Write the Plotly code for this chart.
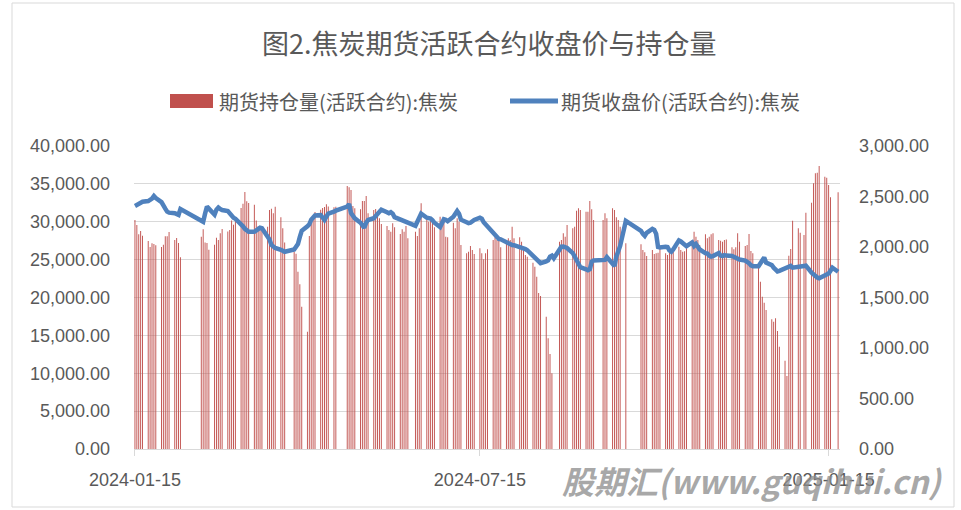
import plotly.graph_objects as go

# ---------------- data ----------------
DATES = [
    "2024-01-15", "2024-01-16", "2024-01-17", "2024-01-18", "2024-01-19",
    "2024-01-22", "2024-01-23", "2024-01-24", "2024-01-25", "2024-01-26",
    "2024-01-29", "2024-01-30", "2024-01-31", "2024-02-01", "2024-02-02",
    "2024-02-05", "2024-02-06", "2024-02-07", "2024-02-08",
    "2024-02-19", "2024-02-20", "2024-02-21", "2024-02-22", "2024-02-23",
    "2024-02-26", "2024-02-27", "2024-02-28", "2024-02-29", "2024-03-01",
    "2024-03-04", "2024-03-05", "2024-03-06", "2024-03-07", "2024-03-08",
    "2024-03-11", "2024-03-12", "2024-03-13", "2024-03-14", "2024-03-15",
    "2024-03-18", "2024-03-19", "2024-03-20", "2024-03-21", "2024-03-22",
    "2024-03-25", "2024-03-26", "2024-03-27", "2024-03-28", "2024-03-29",
    "2024-04-01", "2024-04-02", "2024-04-03",
    "2024-04-08", "2024-04-09", "2024-04-10", "2024-04-11", "2024-04-12",
    "2024-04-15", "2024-04-16", "2024-04-17", "2024-04-18", "2024-04-19",
    "2024-04-22", "2024-04-23", "2024-04-24", "2024-04-25", "2024-04-26",
    "2024-04-29", "2024-04-30",
    "2024-05-06", "2024-05-07", "2024-05-08", "2024-05-09", "2024-05-10",
    "2024-05-13", "2024-05-14", "2024-05-15", "2024-05-16", "2024-05-17",
    "2024-05-20", "2024-05-21", "2024-05-22", "2024-05-23", "2024-05-24",
    "2024-05-27", "2024-05-28", "2024-05-29", "2024-05-30", "2024-05-31",
    "2024-06-03", "2024-06-04", "2024-06-05", "2024-06-06", "2024-06-07",
    "2024-06-11", "2024-06-12", "2024-06-13", "2024-06-14",
    "2024-06-17", "2024-06-18", "2024-06-19", "2024-06-20", "2024-06-21",
    "2024-06-24", "2024-06-25", "2024-06-26", "2024-06-27", "2024-06-28",
    "2024-07-01", "2024-07-02", "2024-07-03", "2024-07-04", "2024-07-05",
    "2024-07-08", "2024-07-09", "2024-07-10", "2024-07-11", "2024-07-12",
    "2024-07-15", "2024-07-16", "2024-07-17", "2024-07-18", "2024-07-19",
    "2024-07-22", "2024-07-23", "2024-07-24", "2024-07-25", "2024-07-26",
    "2024-07-29", "2024-07-30", "2024-07-31", "2024-08-01", "2024-08-02",
    "2024-08-05", "2024-08-06", "2024-08-07", "2024-08-08", "2024-08-09",
    "2024-08-12", "2024-08-13", "2024-08-14", "2024-08-15", "2024-08-16",
    "2024-08-19", "2024-08-20", "2024-08-21", "2024-08-22", "2024-08-23",
    "2024-08-26", "2024-08-27", "2024-08-28", "2024-08-29", "2024-08-30",
    "2024-09-02", "2024-09-03", "2024-09-04", "2024-09-05", "2024-09-06",
    "2024-09-09", "2024-09-10", "2024-09-11", "2024-09-12", "2024-09-13",
    "2024-09-18", "2024-09-19", "2024-09-20",
    "2024-09-23", "2024-09-24", "2024-09-25", "2024-09-26", "2024-09-27",
    "2024-09-30",
    "2024-10-08", "2024-10-09", "2024-10-10", "2024-10-11",
    "2024-10-14", "2024-10-15", "2024-10-16", "2024-10-17", "2024-10-18",
    "2024-10-21", "2024-10-22", "2024-10-23", "2024-10-24", "2024-10-25",
    "2024-10-28", "2024-10-29", "2024-10-30", "2024-10-31", "2024-11-01",
    "2024-11-04", "2024-11-05", "2024-11-06", "2024-11-07", "2024-11-08",
    "2024-11-11", "2024-11-12", "2024-11-13", "2024-11-14", "2024-11-15",
    "2024-11-18", "2024-11-19", "2024-11-20", "2024-11-21", "2024-11-22",
    "2024-11-25", "2024-11-26", "2024-11-27", "2024-11-28", "2024-11-29",
    "2024-12-02", "2024-12-03", "2024-12-04", "2024-12-05", "2024-12-06",
    "2024-12-09", "2024-12-10", "2024-12-11", "2024-12-12", "2024-12-13",
    "2024-12-16", "2024-12-17", "2024-12-18", "2024-12-19", "2024-12-20",
    "2024-12-23", "2024-12-24", "2024-12-25", "2024-12-26", "2024-12-27",
    "2024-12-30", "2024-12-31",
    "2025-01-02", "2025-01-03",
    "2025-01-06", "2025-01-07", "2025-01-08", "2025-01-09", "2025-01-10",
    "2025-01-13", "2025-01-14", "2025-01-15", "2025-01-16", "2025-01-17",
    "2025-01-20",
]

OPEN_INTEREST = [
    30228, 29568, 28336, 28776, 28160,
    27456, 26664, 27152, 27060, 26888,
    26664, 26972, 28072, 28072, 28644,
    27588, 27852, 27192, 25300,
    28028, 29000, 27260, 27192, 26290,
    26970, 27896, 27588, 28468, 29040,
    28700, 28900, 30180, 29600, 30500,
    31800, 32380, 33920, 32690, 32470,
    32230, 30180, 29400, 29260, 29260,
    29348, 31550, 31700, 31108, 31988,
    30580, 29128, 27260,
    26044, 25760, 23404, 21760, 18784,
    15488, 28116, 29700, 30700, 31300,
    31600, 31800, 31950, 32300, 32000,
    31900, 31990,
    34716, 34540, 34188, 32076, 31772,
    31640, 32736, 32736, 33396, 31108,
    31548, 31680, 30888, 30448, 29700,
    29436, 28908, 28688, 29788, 29260,
    28380, 29000, 28688, 29436, 27808,
    28688, 28116, 29128, 32432,
    30316, 30008, 30448, 30228, 29260,
    30668, 30008, 30228, 28028, 27940,
    29876, 29128, 30448, 30008, 26928,
    25828, 26044, 26796, 26268, 25740,
    26488, 25828, 25036, 25828, 26356,
    27588, 27940, 27588, 27588, 26620,
    27368, 27808, 27588, 29348, 27808,
    27940, 27368, 26620, 25608, 25388,
    24596, 24068, 22748, 20600, 20200,
    17468, 14608, 12540, 9988, None,
    27368, 27588, 28468, 28028, 29568,
    29128, 29348, 31460, 31772, 31548,
    31328, 31328, 32736, 31640, 30228,
    30228, 31108, 30448,
    31772, 31548, 30580, 30228, 29348,
    27148,
    27016, 26268, 25960, 25476,
    26268, 25740, 25828, 25916, 26900,
    25828, 25608, 26100, 26300, 26000,
    26708, 26268, 26044, 26100, 26488,
    27588, 28688, 28028, 27588, 26928,
    28336, 27808, 28028, 28336, 28468,
    27588, 27500, 27368, 27600, 27650,
    26620, 26356, 26620, 28468, 27368,
    26796, 26928, 28380, 26136, 25828,
    24156, 22088, 20108, 19316, 18348,
    17116, 16808, 17248, 15576, 13508,
    11660, 9636, 25500, 26400, 30140,
    29128, 28556,
    28248, 31196,
    32516, 35068, 36388, 36476, 37356,
    35948, 35816, 34848, 33220, None,
    33880,
]

CLOSE_PRICE = [
    2406, 2415, 2425, 2440, 2448,
    2455, 2462, 2480, 2505, 2485,
    2445, 2420, 2380, 2350, 2340,
    2335, 2330, 2318, 2376,
    2262, 2250, 2330, 2400, 2380,
    2320, 2370, 2390, 2375, 2366,
    2355, 2330, 2300, 2290, 2280,
    2230, 2205, 2180, 2160, 2150,
    2150, 2165, 2180, 2190, 2185,
    2110, 2075, 2020, 2000, 1990,
    1972, 1962, 1953,
    1975, 2000, 2030, 2100, 2160,
    2205, 2225, 2270, 2295, 2312,
    2315, 2290, 2267, 2300, 2330,
    2350, 2360,
    2400, 2425, 2335, 2300, 2284,
    2240, 2215, 2190, 2240, 2267,
    2285, 2310, 2335, 2352, 2370,
    2345, 2335, 2345, 2330, 2295,
    2268, 2260, 2252, 2248, 2242,
    2210, 2250, 2295, 2330,
    2290, 2285, 2282, 2265, 2240,
    2198, 2240, 2275, 2270, 2255,
    2300, 2335, 2356, 2330, 2270,
    2245, 2236, 2240, 2255, 2268,
    2290, 2280, 2245, 2225, 2200,
    2150, 2125, 2095, 2080, 2076,
    2045, 2036, 2025, 2020, 2018,
    2003, 1998, 1990, 1980, 1968,
    1915, 1900, 1878, 1855, 1840,
    1858, 1868, 1905, 1915, 1888,
    1985, 2003, 2005, 1998, 1990,
    1940, 1905, 1850, 1820, 1800,
    1779, 1770, 1780, 1855, 1866,
    1870, 1872, 1900,
    1835, 1812, 1905, 1960, 2010,
    2258,
    2160, 2130, 2110, 2140,
    2180, 2170, 2130, 2000, 1995,
    2003, 2000, 1965, 1953, 1975,
    2065, 2055, 2036, 2020, 2008,
    2045, 2010, 2030, 2005, 1975,
    1940, 1935, 1915, 1905, 1910,
    1940, 1915, 1910, 1920, 1915,
    1912, 1905, 1895, 1880, 1876,
    1866, 1855, 1840, 1818, 1810,
    1810, 1840, 1880, 1895, 1845,
    1820, 1795, 1772, 1758, 1764,
    1785, 1795, 1808, 1812, 1795,
    1805, 1815,
    1822, 1815,
    1745, 1725, 1712, 1698, 1690,
    1712, 1730, 1738, 1765, 1795,
    1755,
]

X_TICK_VALUES = ["2024-01-15", "2024-07-15", "2025-01-15"]
X_TICK_LABELS = ["2024-01-15", "2024-07-15", "2025-01-15"]
LEFT_TICKS = [0, 5000, 10000, 15000, 20000, 25000, 30000, 35000, 40000]
RIGHT_TICKS = [0, 500, 1000, 1500, 2000, 2500, 3000]

TITLE = "图2.焦炭期货活跃合约收盘价与持仓量"
BAR_NAME = "期货持仓量(活跃合约):焦炭"
LINE_NAME = "期货收盘价(活跃合约):焦炭"
WATERMARK = "股期汇(www.guqihui.cn)"

assert len(DATES) == len(OPEN_INTEREST) == len(CLOSE_PRICE)

# ---------------- layout geometry ----------------
W, H = 961, 510
L, R, T, B = 134, 121, 146, 61
PW, PH = W - L - R, H - T - B


def px(p):
    return (p - L) / PW


def py(p):
    return (H - B - p) / PH


RED = "#C0504D"
BLUE = "#4F81BD"
GRID = "#D9D9D9"
TEXT = "#595959"
CJK = "Noto Sans CJK SC, Noto Sans, sans-serif"
NUM = "Liberation Sans Narrow, Liberation Sans, Arial, sans-serif"

DAY_MS = 86400000

fig = go.Figure()
fig.add_trace(go.Bar(
    x=DATES, y=OPEN_INTEREST, name=BAR_NAME,
    marker=dict(color="rgba(192,80,77,0.99)", line=dict(width=0)),
    width=0.5 * DAY_MS, yaxis="y",
))
fig.add_trace(go.Scatter(
    x=DATES, y=CLOSE_PRICE, name=LINE_NAME, mode="lines",
    line=dict(color=BLUE, width=4.5), yaxis="y2",
))

fig.update_layout(
    width=W, height=H,
    margin=dict(l=L, r=R, t=T, b=B, pad=0),
    paper_bgcolor="white", plot_bgcolor="white",
    showlegend=False,
    title=dict(text=TITLE, x=483.5 / W, xanchor="center", xref="paper",
               y=1 - 45 / H, yanchor="middle", yref="container",
               font=dict(family=CJK, size=27, color=TEXT)),
    xaxis=dict(
        type="date",
        range=["2024-01-14 12:00", "2025-01-21 00:00"],
        tickvals=X_TICK_VALUES, ticktext=X_TICK_LABELS,
        ticks="outside", ticklen=6, tickcolor=GRID,
        showline=True, linecolor=GRID, linewidth=1,
        showgrid=False, zeroline=False,
        tickfont=dict(family=NUM, size=18, color=TEXT),
        ticklabelstandoff=8,
    ),
    yaxis=dict(
        range=[0, 40000], tickvals=LEFT_TICKS, tickformat=",.2f",
        showgrid=True, gridcolor=GRID, gridwidth=1, zeroline=False,
        showline=False, ticks="",
        tickfont=dict(family=NUM, size=18, color=TEXT),
        ticklabelstandoff=23,
    ),
    yaxis2=dict(
        range=[0, 3000], tickvals=RIGHT_TICKS, tickformat=",.2f",
        overlaying="y", side="right", showgrid=False, zeroline=False,
        showline=False, ticks="",
        tickfont=dict(family=NUM, size=18, color=TEXT),
        ticklabelstandoff=18,
    ),
    bargap=0.2,
)

shapes = [
    # outer chart border
    dict(type="rect", xref="paper", yref="paper",
         x0=px(12), x1=px(954), y0=py(507), y1=py(3),
         line=dict(color=GRID, width=1), fillcolor="rgba(0,0,0,0)", layer="below"),
    # legend swatches
    dict(type="rect", xref="paper", yref="paper",
         x0=px(170), x1=px(213), y0=py(108), y1=py(94),
         line=dict(width=0), fillcolor=RED),
    dict(type="line", xref="paper", yref="paper",
         x0=px(510), x1=px(558), y0=py(101), y1=py(101),
         line=dict(color=BLUE, width=5)),
]

annotations = [
    dict(text=BAR_NAME, x=px(217), y=py(101), xref="paper", yref="paper",
         xanchor="left", yanchor="middle", showarrow=False,
         font=dict(family=CJK, size=20, color=TEXT)),
    dict(text=LINE_NAME, x=px(559), y=py(101), xref="paper", yref="paper",
         xanchor="left", yanchor="middle", showarrow=False,
         font=dict(family=CJK, size=20, color=TEXT)),
    dict(text="<b><i>" + WATERMARK + "</i></b>", x=px(752), y=py(480),
         xref="paper", yref="paper", xanchor="center", yanchor="middle",
         showarrow=False,
         font=dict(family="Liberation Sans Narrow, " + CJK, size=32,
                   color="rgba(140,140,140,0.75)")),
]

fig.update_layout(shapes=shapes, annotations=annotations)

fig.write_html("out.html")
